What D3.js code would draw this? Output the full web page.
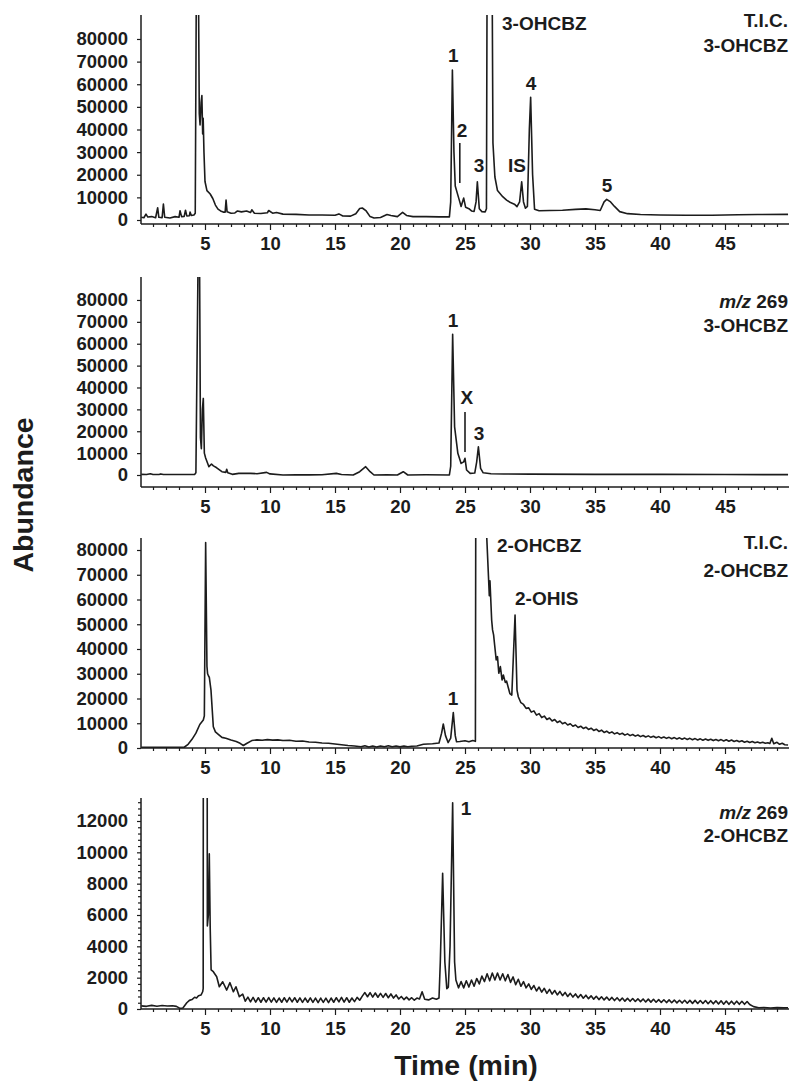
<!DOCTYPE html>
<html>
<head>
<meta charset="utf-8">
<script src="https://cdn.jsdelivr.net/npm/d3@7"></script>
<style>
  body { margin: 0; background: #fff; }
  svg { display: block; }
  .tick text { font-family: "Liberation Sans", Arial, Helvetica, sans-serif; font-weight: bold; font-size: 18.5px; fill: #1c1c1c; }
  .tick line { stroke: #1c1c1c; stroke-width: 1.2; }
  .lbl { font-family: "Liberation Sans", Arial, Helvetica, sans-serif; font-weight: bold; font-size: 19px; fill: #1c1c1c; }
  .title { font-family: "Liberation Sans", Arial, Helvetica, sans-serif; font-weight: bold; font-size: 28.5px; fill: #1c1c1c; }
</style>
</head>
<body>
<script>
// chromatogram data, [time (min), abundance]

// T.I.C. 3-OHCBZ
const tic3 = [
  [0.1,1200],[0.3,1000],[0.46,2600],[0.6,1300],[0.9,1500],[1.2,1000],[1.36,5400],[1.45,1200],[1.7,1000],[1.8,7000],
  [1.9,1200],[2.3,900],[2.7,1500],[3.0,1200],[3.08,4100],[3.2,1500],[3.4,1600],[3.5,4300],[3.6,1800],[3.8,1900],
  [3.85,3500],[3.95,2000],[4.15,2200],[4.25,3000],[4.33,100000],[4.5,100000],[4.56,47000],[4.62,42000],[4.7,52000],[4.76,55000],
  [4.82,38000],[4.86,45000],[4.92,30000],[5.0,17000],[5.15,13000],[5.4,11500],[5.6,9500],[5.8,6600],[6.0,4800],[6.2,4000],
  [6.4,3500],[6.55,3500],[6.62,8800],[6.7,3600],[7.0,3000],[7.3,3100],[7.5,4000],[7.8,3600],[8.2,4000],[8.5,3300],
  [8.6,4500],[8.8,3000],[9.3,2900],[9.8,3200],[9.9,4200],[10.2,3000],[10.5,3300],[11,2600],[12,2500],[13,2200],
  [14,2200],[15,2100],[15.3,2700],[15.6,1800],[16.2,1700],[16.6,2800],[16.9,5100],[17.1,5300],[17.4,4000],[17.7,1500],
  [18.0,900],[18.5,1100],[19.0,2400],[19.3,2000],[19.8,1500],[20.2,3400],[20.5,2000],[21,1500],[22,1500],[23,1400],
  [23.8,1400],[23.9,8000],[24.03,66300],[24.15,30000],[24.25,15000],[24.4,12000],[24.55,9000],[24.7,6000],[24.9,9700],[25.05,5600],
  [25.3,5000],[25.5,4000],[25.7,3800],[25.85,8000],[25.95,16900],[26.1,5000],[26.3,3700],[26.55,3600],[26.65,5000],[26.72,150000],
  [27.05,150000],[27.15,34000],[27.3,19000],[27.5,13000],[27.9,10300],[28.2,8800],[28.5,7700],[28.8,7000],[29.0,5900],[29.2,8000],
  [29.36,16900],[29.5,8000],[29.65,5200],[29.8,6000],[29.95,40000],[30.05,54200],[30.2,20000],[30.35,4800],[30.7,4100],[31.5,4200],
  [32.5,4300],[33.5,4700],[34.3,4900],[35.0,4500],[35.4,4200],[35.7,8000],[35.9,9100],[36.2,8000],[36.5,6000],[36.9,3700],
  [37.5,2800],[38.5,2400],[40,2200],[42,2100],[44,2100],[46,2300],[47.5,2400],[49.85,2500]
];

// m/z 269, 3-OHCBZ
const mz3 = [
  [0.1,300],[0.5,200],[0.8,600],[1.0,250],[1.5,300],[1.6,500],[1.8,200],[2.5,250],[3.5,200],[4.2,250],
  [4.3,1000],[4.47,100000],[4.58,100000],[4.65,17000],[4.72,12000],[4.8,30000],[4.87,35000],[4.95,10000],[5.05,7800],[5.3,3800],
  [5.5,5000],[5.65,4200],[5.9,3300],[6.3,1500],[6.6,1200],[6.67,2600],[6.75,1000],[7.1,300],[7.6,750],[8.5,750],
  [9.0,600],[9.74,1200],[10,500],[11,0],[12,100],[13,50],[14,100],[15.1,750],[15.5,200],[16.4,0],
  [16.9,1500],[17.36,3800],[17.7,1500],[18.0,0],[19,100],[19.8,0],[20.25,1500],[20.6,0],[22,100],[23.8,0],
  [23.9,4000],[24.05,64300],[24.2,22000],[24.45,9900],[24.7,5300],[24.9,6000],[25.0,7600],[25.12,2300],[25.4,750],[25.75,900],
  [25.9,6000],[26.03,12900],[26.2,3000],[26.4,1000],[27,600],[28,450],[30,400],[35,300],[40,300],[45,200],[49.85,150]
];

// T.I.C. 2-OHCBZ
const tic2 = [
  [0.1,300],[1,250],[2,300],[3,250],[3.4,300],[3.7,1500],[4.0,3500],[4.3,6000],[4.6,9500],[4.87,11300],
  [4.95,13000],[5.05,83000],[5.15,33000],[5.2,30000],[5.28,29000],[5.33,28600],[5.46,23400],[5.64,8600],[5.8,6500],[6.0,5600],
  [6.3,4300],[6.6,3900],[7.0,3200],[7.4,2600],[7.7,1900],[7.95,1000],[8.2,1800],[8.6,3000],[9.0,3300],[9.4,3100],
  [9.8,3400],[10.2,3200],[10.6,3300],[11.0,3000],[11.5,3100],[12.0,2700],[12.5,2800],[13.0,2400],[13.5,2300],[14.0,2000],
  [14.5,1900],[15.0,1600],[15.5,1300],[16.0,1000],[16.5,800],[17.0,500],[17.3,900],[17.6,400],[17.9,800],[18.2,400],
  [18.5,800],[18.8,500],[19.1,900],[19.4,500],[19.7,800],[20.0,450],[20.3,750],[20.6,500],[20.9,700],[21.3,800],
  [21.8,1500],[22.5,1700],[23.0,2000],[23.2,6000],[23.33,9700],[23.5,5000],[23.7,2200],[23.9,4000],[24.1,14300],[24.25,5000],
  [24.35,2500],[24.6,2600],[25.0,2900],[25.3,2500],[25.6,3000],[25.8,2700],[25.86,200000],[26.5,200000],[26.67,85500],[26.82,67600],
  [26.87,61500],[26.92,67600],[27.05,51700],[27.12,47700],[27.2,45700],[27.28,41600],[27.4,35600],[27.5,36900],[27.6,30200],[27.72,32900],
  [27.85,27500],[27.95,29500],[28.1,26500],[28.2,27000],[28.45,22000],[28.6,21400],[28.85,53700],[29.0,23400],[29.1,20700],[29.3,18300],
  [29.5,17600],[29.7,16000],[29.9,16200],[30.1,14500],[30.3,15000],[30.5,13300],[30.7,13900],[30.9,12300],[31.1,12900],[31.3,11500],
  [31.5,12100],[31.7,10900],[31.9,11500],[32.1,10300],[32.3,10900],[32.5,9800],[32.7,10300],[32.9,9300],[33.1,9800],[33.3,8800],
  [33.5,9300],[33.7,8300],[33.9,8800],[34.1,7900],[34.3,8400],[34.5,7500],[34.7,8000],[34.9,7100],[35.1,7600],[35.3,6700],
  [35.5,7200],[35.7,6300],[35.9,6800],[36.1,6000],[36.3,6500],[36.5,5700],[36.7,6200],[36.9,5500],[37.1,5950],[37.3,5200],
  [37.5,5700],[37.7,5000],[37.9,5450],[38.1,4800],[38.3,5250],[38.5,4600],[38.7,5050],[38.9,4450],[39.1,4900],[39.3,4300],
  [39.5,4750],[39.7,4150],[39.9,4600],[40.1,4000],[40.3,4450],[40.5,3900],[40.7,4300],[40.9,3750],[41.1,4200],[41.3,3650],
  [41.5,4100],[41.7,3550],[41.9,4000],[42.1,3450],[42.3,3900],[42.5,3350],[42.7,3800],[42.9,3250],[43.1,3700],[43.3,3150],
  [43.5,3600],[43.7,3100],[43.9,3550],[44.1,3000],[44.3,3450],[44.5,2950],[44.7,3400],[44.9,2850],[45.1,3300],[45.3,2750],
  [45.5,3200],[45.7,2650],[45.9,3050],[46.1,2500],[46.3,2900],[46.5,2350],[46.7,2750],[46.9,2200],[47.1,2600],[47.3,2100],
  [47.5,2450],[47.7,2000],[47.9,2300],[48.1,1900],[48.3,2100],[48.45,1800],[48.6,3900],[48.75,1700],[49.0,2300],[49.2,1500],
  [49.4,1900],[49.6,1300],[49.85,1200]
];

// m/z 269, 2-OHCBZ
const mz2 = [
  [0.1,200],[0.5,170],[0.9,230],[1.3,180],[1.7,220],[2.1,190],[2.5,210],[2.8,170],[3.08,40],[3.3,60],
  [3.6,400],[3.8,550],[4.0,600],[4.2,750],[4.35,700],[4.5,850],[4.7,900],[4.82,1100],[4.86,1300],[4.9,60000],
  [5.12,60000],[5.18,5300],[5.26,6000],[5.33,9900],[5.4,5200],[5.47,2500],[5.64,2380],[5.9,2060],[6.1,1420],[6.36,1740],
  [6.67,1210],[6.92,1680],[7.18,1100],[7.38,1420],[7.64,790],[7.9,950],[8.1,500],[8.3,760],[8.5,460],[8.7,740],
  [8.9,440],[9.1,720],[9.3,430],[9.5,720],[9.7,440],[9.9,730],[10.1,440],[10.3,710],[10.5,420],[10.7,700],
  [10.9,430],[11.1,720],[11.3,440],[11.5,730],[11.7,450],[11.9,720],[12.1,430],[12.3,710],[12.5,420],[12.7,700],
  [12.9,430],[13.1,710],[13.3,420],[13.5,700],[13.7,410],[13.9,700],[14.1,420],[14.3,690],[14.5,410],[14.7,700],
  [14.9,430],[15.1,720],[15.3,450],[15.5,740],[15.7,440],[15.9,720],[16.1,430],[16.3,700],[16.5,470],[16.7,740],
  [16.9,560],[17.1,820],[17.3,1050],[17.5,780],[17.7,1040],[17.9,760],[18.1,1020],[18.3,750],[18.5,1000],[18.7,740],
  [18.9,990],[19.1,720],[19.3,960],[19.5,700],[19.7,900],[19.9,640],[20.1,800],[20.3,600],[20.5,760],[20.7,580],
  [20.9,720],[21.1,560],[21.3,700],[21.5,640],[21.7,1100],[21.9,620],[22.2,580],[22.5,700],[22.8,620],[23.0,700],
  [23.1,3000],[23.28,8660],[23.45,3000],[23.6,1300],[23.72,1400],[23.85,4000],[24.05,13160],[24.2,3000],[24.3,1850],[24.5,1350],
  [24.7,1750],[24.9,1350],[25.1,1800],[25.3,1400],[25.5,1850],[25.7,1450],[25.9,1950],[26.1,1600],[26.3,2100],[26.5,1750],
  [26.7,2250],[26.9,1800],[27.1,2300],[27.3,1850],[27.5,2300],[27.7,1850],[27.9,2250],[28.1,1800],[28.3,2200],[28.5,1700],
  [28.7,2050],[28.9,1550],[29.1,1900],[29.3,1450],[29.5,1750],[29.7,1350],[29.9,1600],[30.1,1250],[30.3,1500],[30.5,1150],
  [30.7,1400],[30.9,1080],[31.1,1320],[31.3,1000],[31.5,1250],[31.7,950],[31.9,1180],[32.1,900],[32.3,1120],[32.5,850],
  [32.7,1060],[32.9,800],[33.1,1000],[33.3,760],[33.5,960],[33.7,720],[33.9,920],[34.1,690],[34.3,880],[34.5,660],
  [34.7,840],[34.9,630],[35.1,810],[35.3,600],[35.5,780],[35.7,580],[35.9,760],[36.1,560],[36.3,740],[36.5,540],
  [36.7,720],[36.9,520],[37.1,700],[37.3,500],[37.5,680],[37.7,490],[37.9,670],[38.1,480],[38.3,650],[38.5,470],
  [38.7,640],[38.9,450],[39.1,630],[39.3,440],[39.5,620],[39.7,430],[39.9,600],[40.1,420],[40.3,590],[40.5,410],
  [40.7,580],[40.9,400],[41.1,570],[41.3,390],[41.5,560],[41.7,380],[41.9,560],[42.1,370],[42.3,550],[42.5,360],
  [42.7,550],[42.9,350],[43.1,540],[43.3,350],[43.5,540],[43.7,340],[43.9,530],[44.1,330],[44.3,520],[44.5,320],
  [44.7,520],[44.9,310],[45.1,510],[45.3,300],[45.5,500],[45.7,300],[45.9,500],[46.1,300],[46.3,490],[46.5,300],
  [46.7,480],[46.9,290],[47.2,150],[47.6,80],[48,100],[48.5,60],[49,90],[49.5,70],[49.85,80]
];

// peak labels: text, time, abundance at label centre
const tic3Labels = [["1",24.1,72900],["2",24.77,39800],["3",26.08,24300],["IS",29.0,24300],["4",30.08,60550],["5",35.92,15500]];
const mz3Labels = [["1",24.08,70860],["X",25.15,35660],["3",26.08,19200]];
const tic2Labels = [["1",24.08,20200]];
const mz2Labels = [["1",25.08,12830]];

// vertical marker lines: time, from, to
const tic3Marks = [[24.6,16350,34000]];
const mz3Marks = [[25.0,10500,28800]];

const xTickLabels = [5,10,15,20,25,30,35,40,45];

const W = 800, H = 1086;
const svg = d3.select("body").append("svg").attr("width", W).attr("height", H);

const x = d3.scaleLinear().domain([0, 50]).range([140, 790]);
const xLeft = 141, xRight = 789;

let panels = [
  { data: tic3, labels: tic3Labels, marks: tic3Marks, name: "3-OHCBZ", nameAt: [27.85, 87000],
    corner: ["T.I.C.", "3-OHCBZ"], cornerY: [20, 45], mz: false,
    top: 15, y0: 220, yTop: 90600, axisY: 224, yStep: 10000, yMaxTick: 80000, yMinor: 0 },
  { data: mz3, labels: mz3Labels, marks: mz3Marks, name: null,
    corner: ["269", "3-OHCBZ"], cornerY: [301, 325], mz: true,
    top: 277, y0: 475, yTop: 90500, axisY: 487, yStep: 10000, yMaxTick: 80000, yMinor: 0 },
  { data: tic2, labels: tic2Labels, marks: [], name: "2-OHCBZ", nameAt: [27.46, 82020],
    extra: ["2-OHIS", 28.85, 60600],
    corner: ["T.I.C.", "2-OHCBZ"], cornerY: [542, 570], mz: false,
    top: 538, y0: 748, yTop: 84850, axisY: 748, yStep: 10000, yMaxTick: 80000, yMinor: 0 },
  { data: mz2, labels: mz2Labels, marks: [], name: null,
    corner: ["269", "2-OHCBZ"], cornerY: [812, 835], mz: true,
    top: 798, y0: 1009, yTop: 13468, axisY: 1009, yStep: 2000, yMaxTick: 12000, yMinor: 400 }
];

let line = d3.line().x(d => x(d[0]));

panels.forEach(function (p, i) {
  let y = d3.scaleLinear().domain([0, p.yTop]).range([p.y0, p.top]);
  let g = svg.append("g");

  svg.append("clipPath").attr("id", "clip" + i)
    .append("rect")
    .attr("x", xLeft).attr("y", p.top)
    .attr("width", xRight - xLeft + 1).attr("height", p.axisY - p.top);

  // trace
  g.append("path")
    .attr("clip-path", "url(#clip" + i + ")")
    .attr("fill", "none")
    .attr("stroke", "#1c1c1c")
    .attr("stroke-width", 1.6)
    .attr("stroke-linejoin", "round")
    .attr("d", line.y(d => y(d[1]))(p.data));

  // y axis
  if (p.yMinor) {
    let minor = d3.range(0, p.yTop, p.yMinor).filter(v => v % p.yStep != 0);
    g.append("g")
      .attr("transform", "translate(" + xLeft + ",0)")
      .call(d3.axisLeft(y).tickValues(minor).tickSize(3).tickFormat(""))
      .call(a => a.select(".domain").remove());
  }
  g.append("g")
    .attr("transform", "translate(" + xLeft + ",0)")
    .call(d3.axisLeft(y).tickValues(d3.range(0, p.yMaxTick + 1, p.yStep)).tickSize(4).tickPadding(9).tickFormat(d3.format("d")))
    .call(a => a.select(".domain").remove());
  g.append("line")
    .attr("x1", xLeft).attr("x2", xLeft)
    .attr("y1", p.top).attr("y2", p.axisY)
    .attr("stroke", "#1c1c1c").attr("stroke-width", 1.5);

  // x axis
  let xMinor = d3.range(1, 50).filter(v => v % 5 != 0);
  g.append("g")
    .attr("transform", "translate(0," + p.axisY + ")")
    .call(d3.axisBottom(x).tickValues(xMinor).tickSize(3).tickFormat(""))
    .call(a => a.select(".domain").remove());
  g.append("g")
    .attr("transform", "translate(0," + p.axisY + ")")
    .call(d3.axisBottom(x).tickValues(xTickLabels).tickSize(6).tickPadding(6.5))
    .call(a => a.select(".domain").remove());
  g.append("line")
    .attr("x1", xLeft).attr("x2", xRight)
    .attr("y1", p.axisY).attr("y2", p.axisY)
    .attr("stroke", "#1c1c1c").attr("stroke-width", 1.5);

  // peak labels
  p.labels.forEach(function (l) {
    g.append("text").attr("class", "lbl")
      .attr("x", x(l[1])).attr("y", y(l[2])).attr("dy", "0.36em")
      .attr("text-anchor", "middle")
      .text(l[0]);
  });
  p.marks.forEach(function (m) {
    g.append("line")
      .attr("x1", x(m[0])).attr("x2", x(m[0]))
      .attr("y1", y(m[1])).attr("y2", y(m[2]))
      .attr("stroke", "#1c1c1c").attr("stroke-width", 1.6);
  });
  if (p.name) {
    g.append("text").attr("class", "lbl")
      .attr("x", x(p.nameAt[0])).attr("y", y(p.nameAt[1])).attr("dy", "0.36em")
      .text(p.name);
  }
  if (p.extra) {
    g.append("text").attr("class", "lbl")
      .attr("x", x(p.extra[1])).attr("y", y(p.extra[2])).attr("dy", "0.36em")
      .text(p.extra[0]);
  }

  // corner text
  let c1 = g.append("text").attr("class", "lbl")
    .attr("x", 788).attr("y", p.cornerY[0]).attr("dy", "0.36em")
    .attr("text-anchor", "end");
  if (p.mz) {
    c1.append("tspan").attr("font-style", "italic").text("m/z");
    c1.append("tspan").text(" " + p.corner[0]);
  } else {
    c1.text(p.corner[0]);
  }
  g.append("text").attr("class", "lbl")
    .attr("x", 788).attr("y", p.cornerY[1]).attr("dy", "0.36em")
    .attr("text-anchor", "end")
    .text(p.corner[1]);
});

svg.selectAll(".tick text").attr("font-family", null).attr("font-size", null);

// axis titles
svg.append("text").attr("class", "title")
  .attr("transform", "translate(33,495) rotate(-90)")
  .attr("text-anchor", "middle")
  .text("Abundance");
svg.append("text").attr("class", "title")
  .attr("x", 466).attr("y", 1075)
  .attr("text-anchor", "middle")
  .text("Time (min)");
</script>
</body>
</html>
